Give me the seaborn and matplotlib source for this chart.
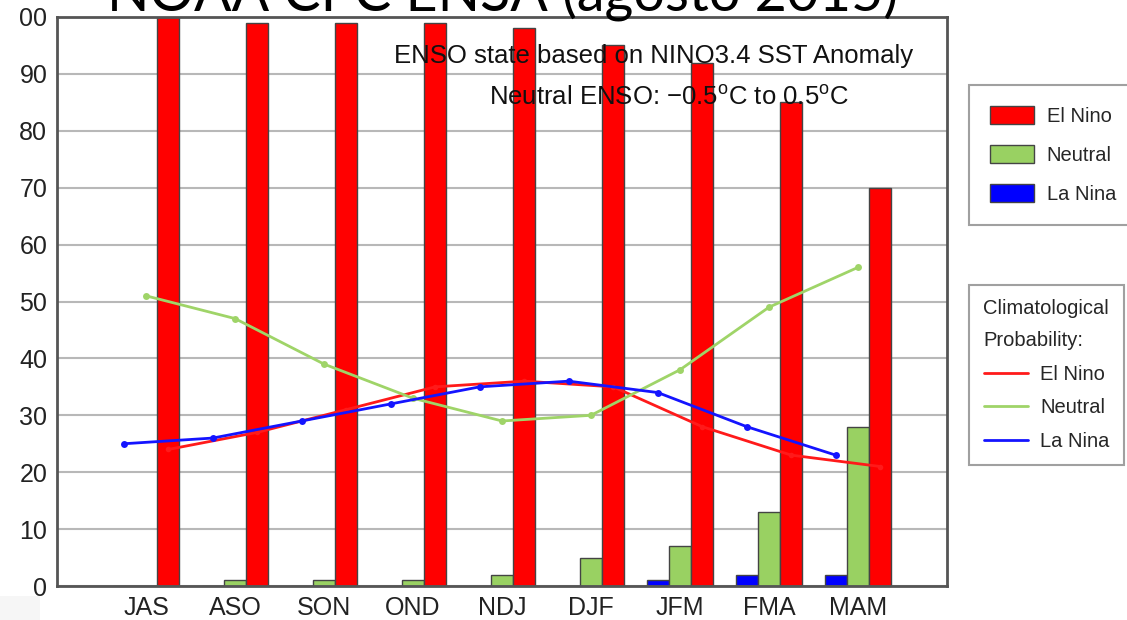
import numpy as np
import pandas as pd
import seaborn as sns
import matplotlib.pyplot as plt
from matplotlib.patches import Patch, Rectangle
from matplotlib.lines import Line2D

seasons = ["JAS", "ASO", "SON", "OND", "NDJ", "DJF", "JFM", "FMA", "MAM"]
el_nino = [100, 99, 99, 99, 98, 95, 92, 85, 70]
neutral = [0, 1, 1, 1, 2, 5, 7, 13, 28]
la_nina = [0, 0, 0, 0, 0, 0, 1, 2, 2]

clim_el_nino = [24, 27, 31, 35, 36, 35, 28, 23, 21]
clim_neutral = [51, 47, 39, 33, 29, 30, 38, 49, 56]
clim_la_nina = [25, 26, 29, 32, 35, 36, 34, 28, 23]

yticks = [0, 10, 20, 30, 40, 50, 60, 70, 80, 90, 100]
ytick_labels = ["0", "10", "20", "30", "40", "50", "60", "70", "80", "90", "00"]

states = ["La Nina", "Neutral", "El Nino"]
bar_colors = {"La Nina": "#0000ff", "Neutral": "#99d162", "El Nino": "#ff0000"}

df = pd.DataFrame({
    "season": seasons * 3,
    "prob": la_nina + neutral + el_nino,
    "state": ["La Nina"] * 9 + ["Neutral"] * 9 + ["El Nino"] * 9,
})

sns.set_style("white")
plt.rcParams["font.family"] = ["Liberation Sans", "DejaVu Sans"]
plt.rcParams["mathtext.fontset"] = "custom"
plt.rcParams["mathtext.rm"] = "Liberation Sans"
plt.rcParams["mathtext.it"] = "Liberation Sans"

fig = plt.figure(figsize=(11.27, 6.2), dpi=100)
ax = fig.add_axes([57 / 1127, 34 / 620, 890 / 1127, 569 / 620])

sns.barplot(data=df, x="season", y="prob", hue="state", hue_order=states,
            palette=bar_colors, width=0.75, edgecolor="#444444", linewidth=1,
            saturation=1, legend=False, ax=ax)

pos = np.arange(len(seasons))
sns.lineplot(x=pos + 0.25, y=clim_el_nino, color="#ff1a1a", lw=2, marker="o",
             markersize=4, markeredgewidth=0, ax=ax)
sns.lineplot(x=pos, y=clim_neutral, color="#9fd468", lw=2, marker="o",
             markersize=5, markeredgewidth=0, ax=ax)
sns.lineplot(x=pos - 0.25, y=clim_la_nina, color="#1414ff", lw=2, marker="o",
             markersize=5, markeredgewidth=0, ax=ax)

ax.set_xlim(-1, 9)
ax.set_ylim(0, 100)
ax.set_xticks(pos)
ax.set_xticklabels(seasons, fontsize=18)
ax.set_yticks(yticks)
ax.set_yticklabels(ytick_labels, fontsize=18)
ax.tick_params(length=0, pad=7, colors="#222222")
ax.set_xlabel("")
ax.set_ylabel("")
ax.yaxis.grid(True, color="#b8b8b8", lw=1.5)
ax.set_axisbelow(True)
for s in ax.spines.values():
    s.set_color("#555555")
    s.set_linewidth(2)

ax.text(0.670, 0.931, "ENSO state based on NINO3.4 SST Anomaly", transform=ax.transAxes,
        ha="center", va="center", fontsize=18.5, color="#111111", zorder=10)
ax.text(0.688, 0.858, r"Neutral ENSO: $-$0.5$^{\rm o}$C to 0.5$^{\rm o}$C",
        transform=ax.transAxes, ha="center", va="center", fontsize=18.5,
        color="#111111", zorder=10)

# legends at the right
h1 = [Patch(facecolor=bar_colors[s], edgecolor="#444444", label=s)
      for s in ["El Nino", "Neutral", "La Nina"]]
leg1 = fig.legend(handles=h1, loc="upper left", bbox_to_anchor=(969 / 1127, 1 - 85 / 620),
                  fontsize=14.5, frameon=True, fancybox=False, edgecolor="#888888",
                  handlelength=2.2, handleheight=1.0, labelspacing=0.95,
                  borderpad=1.05, handletextpad=0.6, borderaxespad=0)
leg1.get_frame().set_linewidth(1.5)

h2 = [Line2D([], [], color="#ff1a1a", lw=2, label="El Nino"),
      Line2D([], [], color="#9fd468", lw=2, label="Neutral"),
      Line2D([], [], color="#1414ff", lw=2, label="La Nina")]
leg2 = fig.legend(handles=h2, loc="upper left", bbox_to_anchor=(969 / 1127, 1 - 285 / 620),
                  title="Climatological\nProbability:", title_fontsize=14.5,
                  alignment="left", fontsize=14.5, frameon=True, fancybox=False,
                  edgecolor="#888888", handlelength=2.2, labelspacing=0.72,
                  borderpad=0.72, handletextpad=0.6, borderaxespad=0)
leg2.get_frame().set_linewidth(1.5)
leg2.get_title().set_linespacing(1.85)

fig.text(107 / 1127, 1 - 11 / 620, "NOAA CPC ENSA (agosto 2015)", fontsize=40,
         family=["Lato", "DejaVu Sans"], ha="left", va="baseline", color="black", zorder=20)

fig.patches.append(Rectangle((0, 0), 40 / 1127, 24 / 620, transform=fig.transFigure,
                             facecolor="#f6f6f6", edgecolor="none", zorder=0))

fig.savefig("out.png", dpi=100)
